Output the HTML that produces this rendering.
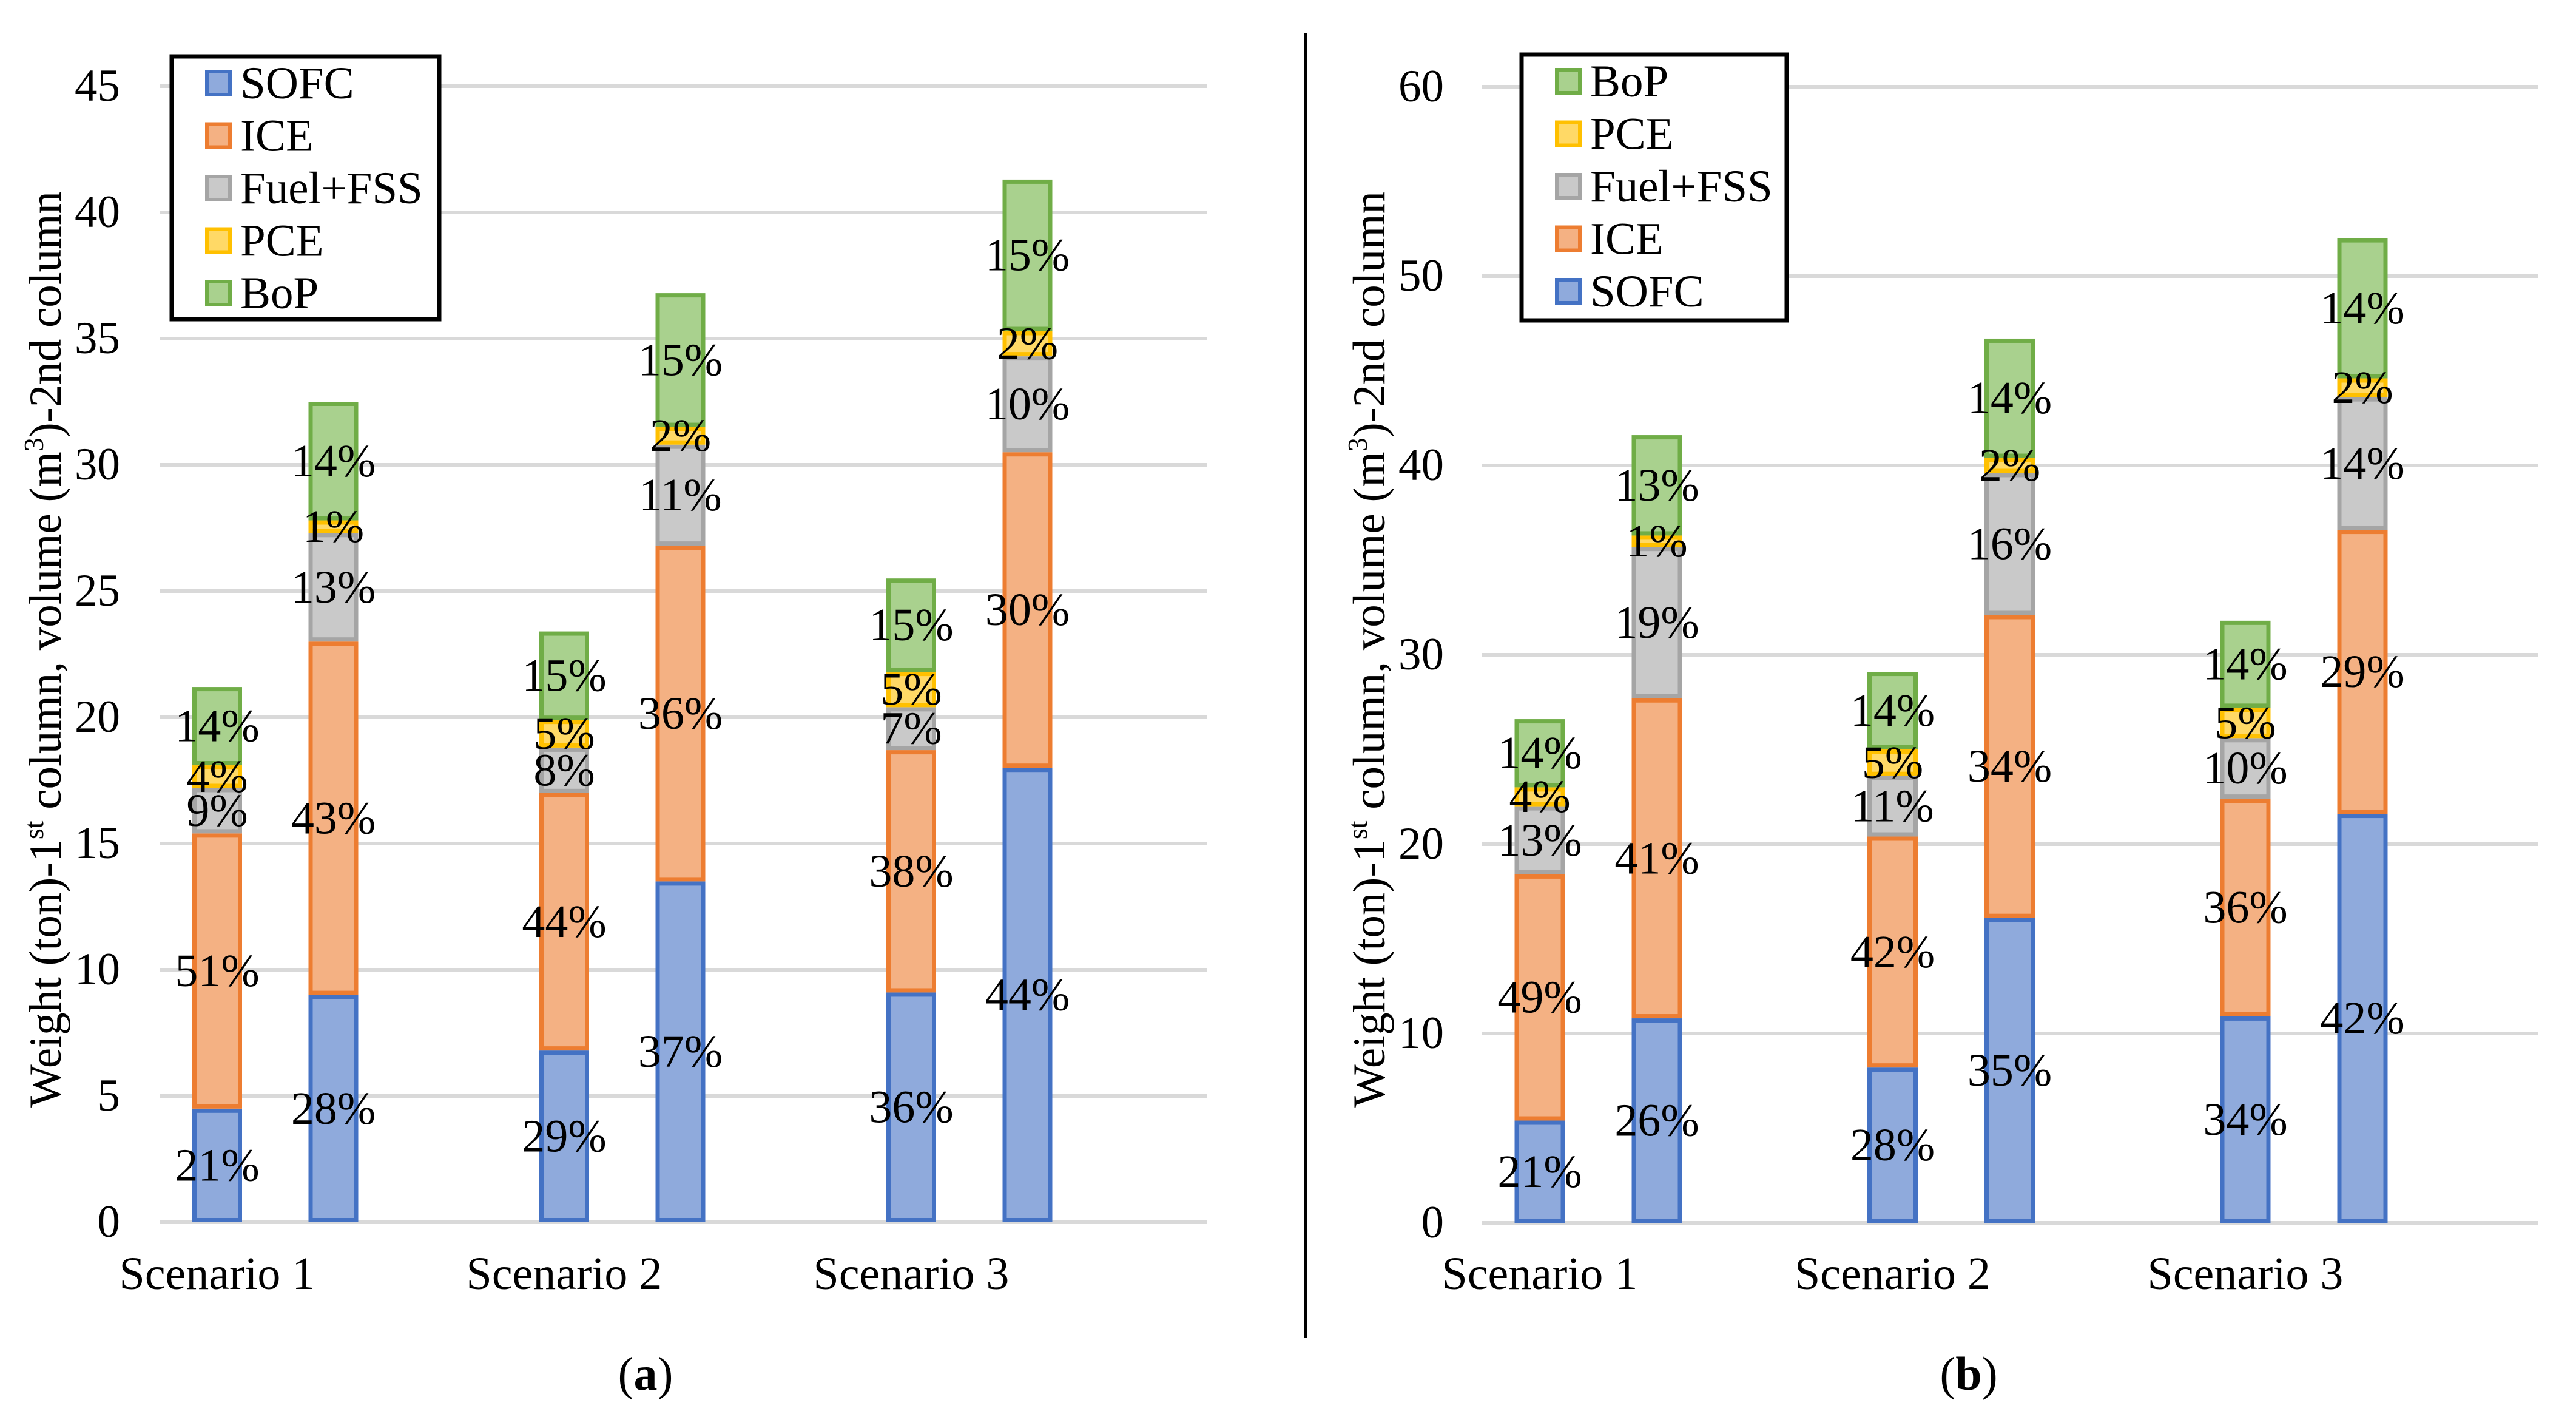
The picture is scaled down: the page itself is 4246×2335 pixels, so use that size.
<!DOCTYPE html>
<html><head><meta charset="utf-8"><style>
html,body{margin:0;padding:0;background:#fff;}
svg{display:block;}
svg text{font-family:"Liberation Serif","Times New Roman",serif;}
</style></head><body>
<svg id="fig" width="4246" height="2335" viewBox="0 0 4246 2335" xmlns="http://www.w3.org/2000/svg" font-family="Liberation Serif, serif">
<rect x="0" y="0" width="4246" height="2335" fill="#fff"/>
<line x1="2152" y1="54" x2="2152" y2="2204" stroke="#000" stroke-width="5"/>
<g id="chartA"></g>
<g id="chartB"></g>
<text x="1064" y="2290" font-size="78" text-anchor="middle">(<tspan font-weight="bold">a</tspan>)</text>
<text x="3245" y="2290" font-size="78" text-anchor="middle">(<tspan font-weight="bold">b</tspan>)</text>
</svg>
<script>
const NS="http://www.w3.org/2000/svg";
const seriesNames=["SOFC","ICE","Fuel+FSS","PCE","BoP"];
const categories=["Scenario 1","Scenario 2","Scenario 3"];
// Chart A segment values (stacked order SOFC, ICE, Fuel+FSS, PCE, BoP) for 6 columns
const aSOFC=[4.5,9.0,6.8,13.5,9.1,18.0];
const aICE=[10.9,14.0,10.2,13.3,9.6,12.5];
const aFuel=[1.8,4.3,1.8,4.0,1.7,3.8];
const aPCE=[0.9,0.5,1.1,0.7,1.4,1.0];
const aBoP=[3.1,4.7,3.5,5.3,3.7,6.0];
const aLabels=[["21%","28%","29%","37%","36%","44%"],["51%","43%","44%","36%","38%","30%"],["9%","13%","8%","11%","7%","10%"],["4%","1%","5%","2%","5%","2%"],["14%","14%","15%","15%","15%","15%"]];
const aTicks=[0,5,10,15,20,25,30,35,40,45];
// Chart B
const bSOFC=[5.4,10.8,8.2,16.1,10.9,21.6];
const bICE=[13.0,16.9,12.2,16.0,11.5,15.0];
const bFuel=[3.6,8.0,3.2,7.5,3.2,7.0];
const bPCE=[1.0,0.6,1.4,0.8,1.6,1.0];
const bBoP=[3.6,5.3,4.1,6.3,4.6,7.4];
const bLabels=[["21%","26%","28%","35%","34%","42%"],["49%","41%","42%","34%","36%","29%"],["13%","19%","11%","16%","10%","14%"],["4%","1%","5%","2%","5%","2%"],["14%","13%","14%","14%","14%","14%"]];
const bTicks=[0,10,20,30,40,50,60];

const fills=["#8faadc","#f4b183","#c9c9c9","#ffd966","#a9d18e"];
const strokes=["#4472c4","#ed7d31","#a5a5a5","#ffc000","#70ad47"];
const FONT="Liberation Serif, serif";

function mk(tag,attrs,parent){const e=document.createElementNS(NS,tag);for(const k in attrs)e.setAttribute(k,attrs[k]);if(tag==="text")e.setAttribute("font-family",FONT);parent.appendChild(e);return e;}

function drawChart(g,cfg){
  const y=v=>cfg.y0-(v-0)*(cfg.y0-cfg.yTop)/cfg.max;
  const colX=(c,k)=>cfg.cat0+c*cfg.catStep+k*cfg.pairGap;
  cfg.ticks.forEach(t=>{
    const l=mk("line",{x1:cfg.gx0,x2:cfg.gx1,y1:y(t),y2:y(t),stroke:"#d9d9d9","stroke-width":6},g);
    
    
    const tx=mk("text",{x:cfg.tickX,y:y(t)+24,"font-size":75,"text-anchor":"end"},g);
    tx.textContent=t;
    
    
  });
  const series=cfg.series;
  for(let i=0;i<6;i++){
    const c=Math.floor(i/2),k=i%2;
    const cx=colX(c,k);
    let base=0;
    for(let s=0;s<5;s++){
      const v=series[s][i];
      const r=mk("rect",{x:cx-cfg.bw/2+3.5,y:y(base+v)+3.5,width:cfg.bw-7,height:Math.max(0,y(base)-y(base+v)-7),fill:fills[s],stroke:strokes[s],"stroke-width":7},g);
      
      
      base+=v;
    }
    base=0;
    for(let s=0;s<5;s++){
      const v=series[s][i];
      const t=mk("text",{x:cx,y:(y(base)+y(base+v))/2+25,"font-size":76,"text-anchor":"middle"},g);
      t.textContent=cfg.labels[s][i];
      
      
      base+=v;
    }
  }
  categories.forEach((n,c)=>{
    const t=mk("text",{x:colX(c,0),y:2124,"font-size":76,"text-anchor":"middle"},g);
    t.textContent=n;
    
    
  });
  const ti=mk("text",{x:0,y:0,"font-size":75,"text-anchor":"middle",transform:"translate("+cfg.titleX+",1070) rotate(-90)"},g);
  ti.innerHTML='Weight (ton)-1<tspan font-size="46" dy="-29">st</tspan><tspan dy="29"> column, volume (m</tspan><tspan font-size="46" dy="-29">3</tspan><tspan dy="29">)-2nd column</tspan>';
  
  
  const L=cfg.legend;
  const lg=mk("g",{},g);
  
  
  mk("rect",{x:L.x,y:L.y,width:L.w,height:L.h,fill:"#fff",stroke:"#000","stroke-width":7},lg);
  L.order.forEach((s,j)=>{
    const cy=L.y+44+j*86.5;
    const sw=mk("rect",{x:L.x+58,y:cy-19,width:38,height:38,fill:fills[s],stroke:strokes[s],"stroke-width":6},lg);
    
    
    const t=mk("text",{x:L.x+113,y:cy+25,"font-size":75},lg);
    t.textContent=seriesNames[s];
    
    
  });
}
drawChart(document.getElementById("chartA"),{y0:2014,yTop:142,max:45,ticks:aTicks,gx0:263,gx1:1990,tickX:198,
  cat0:358,catStep:572,pairGap:191.5,bw:82,series:[aSOFC,aICE,aFuel,aPCE,aBoP],labels:aLabels,titleX:100,
  legend:{x:283,y:93,w:441,h:433,order:[0,1,2,3,4]}});
drawChart(document.getElementById("chartB"),{y0:2015,yTop:143,max:60,ticks:bTicks,gx0:2442,gx1:4184,tickX:2380,
  cat0:2538,catStep:581.5,pairGap:193,bw:83,series:[bSOFC,bICE,bFuel,bPCE,bBoP],labels:bLabels,titleX:2282,
  legend:{x:2508,y:90,w:437,h:438,order:[4,3,2,1,0]}});
</script>
</body></html>
